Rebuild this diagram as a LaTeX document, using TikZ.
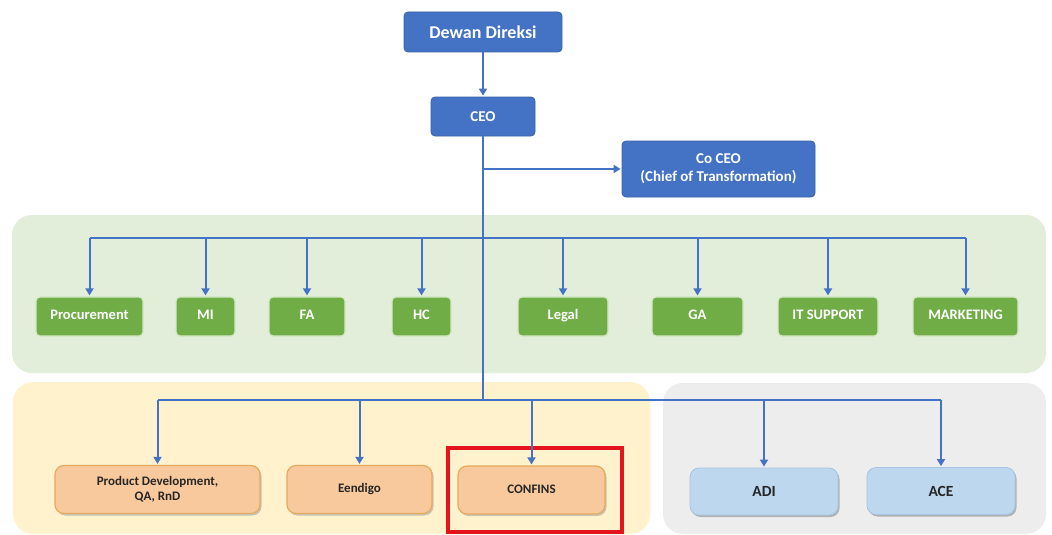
\documentclass[tikz,border=0pt]{standalone}
\usepackage{fontspec}
\setmainfont{Carlito}
\usetikzlibrary{arrows.meta,shadows}
\definecolor{dblue}{HTML}{4472C4}
\definecolor{dblueb}{HTML}{3A62A8}
\definecolor{gbox}{HTML}{70AD47}
\definecolor{gboxb}{HTML}{D3E8C4}
\definecolor{gband}{HTML}{E3EEDA}
\definecolor{yband}{HTML}{FFF2CC}
\definecolor{grband}{HTML}{EDEDED}
\definecolor{obox}{HTML}{F8C99C}
\definecolor{oboxb}{HTML}{E5AA60}
\definecolor{lbbox}{HTML}{BDD7EE}
\definecolor{lbboxb}{HTML}{A8C4E2}
\definecolor{redbox}{HTML}{E3141C}
\begin{document}
\begin{tikzpicture}[x=1pt,y=-1pt,
  topbox/.style={draw=dblueb,line width=0.8pt,fill=dblue,rounded corners=4pt,text=white,font=\bfseries,align=center,inner sep=0pt},
  gnode/.style={draw=gboxb,line width=1.2pt,fill=gbox,rounded corners=4pt,text=white,font=\fontsize{14.5}{16}\selectfont\bfseries,minimum height=39pt,inner sep=0pt,text height=0.64em,text depth=0pt},
  onode/.style={draw=oboxb,line width=1.2pt,fill=obox,rounded corners=9pt,text=black!85,font=\fontsize{13}{15}\selectfont\bfseries,align=center,minimum height=48pt,inner sep=0pt,drop shadow={shadow xshift=1.5pt,shadow yshift=-2pt,fill=black!35,opacity=0.6}},
  oneline/.style={text height=0.64em,text depth=0pt},
  bnode/.style={draw=lbboxb,line width=0.8pt,fill=lbbox,rounded corners=9pt,text=black!85,font=\fontsize{15.5}{17}\selectfont\bfseries,minimum height=47pt,inner sep=0pt,drop shadow={shadow xshift=1.5pt,shadow yshift=-2pt,fill=black!45,opacity=0.6}},
  trunk/.style={draw=dblue,line width=2.6pt},
  branch/.style={draw=dblue,line width=2pt},
  arr/.style={draw=dblue,line width=2pt,-{Triangle[length=7pt,width=8pt]},shorten >=1pt},
  band/.style={rounded corners=20pt}
]
\useasboundingbox (0,0) rectangle (1052,535);
\fill[white] (0,0) rectangle (1052,535);
% bands
\fill[gband,band] (12,215) rectangle (1046,373);
\fill[yband,band] (13,382) rectangle (650,534);
\fill[grband,band] (663,383) rectangle (1046,534);
% top boxes
\node[topbox,minimum width=158pt,minimum height=40pt,font=\fontsize{18}{20}\selectfont\bfseries] (dd) at (483,32) {Dewan Direksi};
\node[topbox,minimum width=104pt,minimum height=39pt,font=\fontsize{15}{17}\selectfont\bfseries] (ceo) at (483,116.5) {CEO};
\node[topbox,minimum width=193pt,minimum height=56pt,font=\fontsize{15}{18}\selectfont\bfseries] (coceo) at (718.5,169) {Co CEO\\(Chief of Transformation)};
% green boxes
\node[gnode,minimum width=107pt] (proc) at (89.5,316.5) {Procurement};
\node[gnode,minimum width=59pt] (mi) at (205.5,316.5) {MI};
\node[gnode,minimum width=76pt] (fa) at (307,316.5) {FA};
\node[gnode,minimum width=59pt] (hc) at (421.5,316.5) {HC};
\node[gnode,minimum width=90pt] (legal) at (563,316.5) {Legal};
\node[gnode,minimum width=91pt] (ga) at (697.5,316.5) {GA};
\node[gnode,minimum width=100pt] (its) at (828,316.5) {IT SUPPORT};
\node[gnode,minimum width=105pt] (mkt) at (965.5,316.5) {MARKETING};
% bottom boxes
\node[onode,minimum width=205pt] (pd) at (157.5,489.5) {Product Development,\\QA, RnD};
\node[onode,oneline,minimum width=145pt] (een) at (359.5,489.5) {Eendigo};
\node[onode,oneline,minimum width=147pt] (conf) at (531.5,490) {CONFINS};
\node[bnode,minimum width=148pt] (adi) at (764,491.5) {ADI};
\node[bnode,minimum width=148pt] (ace) at (941,491) {ACE};
% highlight
\draw[redbox,line width=4pt] (448,448) rectangle (622,532);
% connectors
\coordinate (gl) at (0,238);
\coordinate (bl) at (0,400);
\draw[arr] (dd.south) -- (ceo.north);
\draw[trunk] (ceo.south) -- (ceo.south |- bl);
\draw[arr] (ceo.south |- coceo.west) -- (coceo.west);
\draw[branch] (proc.north |- gl) -- (mkt.north |- gl);
\foreach \n in {proc,mi,fa,hc,legal,ga,its,mkt}{
  \draw[arr] (\n.north |- gl) -- (\n.north);
}
\draw[branch] (pd.north |- bl) -- (ace.north |- bl);
\foreach \n in {pd,een,conf,adi,ace}{
  \draw[arr] (\n.north |- bl) -- (\n.north);
}
\end{tikzpicture}
\end{document}
